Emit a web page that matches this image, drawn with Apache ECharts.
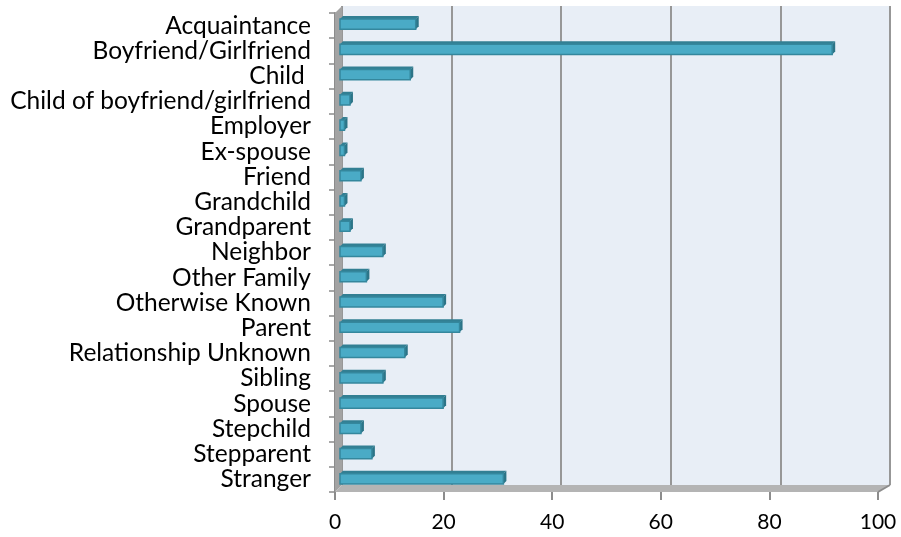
<!DOCTYPE html>
<html>
<head>
<meta charset="utf-8">
<script src="https://cdn.jsdelivr.net/npm/echarts@6/dist/echarts.min.js"></script>
<style>
html, body { margin: 0; padding: 0; background: #fff; }
#chart { width: 901px; height: 537px; }
</style>
</head>
<body>
<div id="chart"></div>
<script>
var categories = ['Acquaintance', 'Boyfriend/Girlfriend', 'Child ', 'Child of boyfriend/girlfriend',
    'Employer', 'Ex-spouse', 'Friend', 'Grandchild', 'Grandparent', 'Neighbor', 'Other Family',
    'Otherwise Known', 'Parent', 'Relationship Unknown', 'Sibling', 'Spouse', 'Stepchild',
    'Stepparent', 'Stranger'];
var counts = [14, 90, 13, 2, 1, 1, 4, 1, 2, 8, 5, 19, 22, 12, 8, 19, 4, 6, 30];
var xTicks = [0, 20, 40, 60, 80, 100];

var myChart = echarts.init(document.getElementById('chart'));

// back plane / front axis geometry (3d look like excel)
var back = {left: 342, right: 11, top: 6, bottom: 52};
var front = {left: 335, right: 23, top: 13, bottom: 45};
var W = 901, H = 537;
var FONT = 'Lato';

function bar3d(params, api) {
    var v = api.value(0);
    var start = api.coord([0, api.value(1)]);
    var end = api.coord([v, api.value(1)]);
    var bh = api.size([0, 1])[1] * 0.52;
    var d = 3;
    var x0 = start[0] - 2, x1 = Math.max(end[0] - d, x0 + 2), y0 = start[1] - bh / 2 + d, y1 = start[1] + bh / 2;
    return {
        type: 'group',
        children: [
            {type: 'polygon', shape: {points: [[x0, y0], [x1, y0], [x1 + d, y0 - d], [x0 + d, y0 - d]]},
                style: {fill: '#327f93'}},
            {type: 'polygon', shape: {points: [[x1, y0], [x1 + d, y0 - d], [x1 + d, y1 - d], [x1, y1]]},
                style: {fill: '#2c7487'}},
            {type: 'rect', shape: {x: x0, y: y0, width: x1 - x0, height: y1 - y0},
                style: {fill: '#4aabc6', stroke: '#34879d', lineWidth: 1.5}}
        ]
    };
}

option = {
    backgroundColor: '#ffffff',
    animation: false,
    graphic: [
        // left wall
        {type: 'polygon', z: 1, shape: {points: [[front.left, front.top], [back.left, back.top],
            [back.left, H - back.bottom], [front.left, H - front.bottom]]},
            style: {fill: '#a3a3a3'}},
        // floor
        {type: 'polygon', z: 1, shape: {points: [[back.left, H - back.bottom], [W - back.right, H - back.bottom],
            [W - front.right, H - front.bottom], [front.left, H - front.bottom]]},
            style: {fill: '#b4b4b4'}},
        {type: 'line', z: 1, shape: {x1: W - back.right, y1: H - back.bottom, x2: W - front.right, y2: H - front.bottom},
            style: {stroke: '#8c8c8c', lineWidth: 2}}
    ],
    grid: [
        {left: back.left, right: back.right, top: back.top, bottom: back.bottom,
            show: true, backgroundColor: '#e8eef6', borderWidth: 0},
        {left: back.left, right: back.right, top: 10, bottom: 47},
        {left: front.left, right: front.right, top: front.top, bottom: front.bottom}
    ],
    xAxis: [
        {gridIndex: 0, type: 'value', min: 0, max: 100, interval: 20,
            axisLine: {show: false}, axisTick: {show: false}, axisLabel: {show: false},
            splitLine: {show: true, lineStyle: {color: '#979797', width: 2}}},
        {gridIndex: 1, type: 'value', min: 0, max: 100, show: false},
        {gridIndex: 2, type: 'value', min: 0, max: 100, interval: 20,
            axisLine: {show: false},
            axisTick: {show: true, length: 8, lineStyle: {color: '#8c8c8c', width: 2}},
            axisLabel: {color: '#000', fontFamily: FONT, fontSize: 21, margin: 20,
                formatter: function (v) { return xTicks.indexOf(v) >= 0 ? String(v) : ''; }},
            splitLine: {show: false}}
    ],
    yAxis: [
        {gridIndex: 0, type: 'category', data: categories, inverse: true, show: false},
        {gridIndex: 1, type: 'category', data: categories, inverse: true, show: false},
        {gridIndex: 2, type: 'category', data: categories, inverse: true,
            axisLine: {show: true, lineStyle: {color: '#8c8c8c', width: 2}},
            axisTick: {show: true, length: 6, lineStyle: {color: '#8c8c8c', width: 1.5}},
            axisLabel: {color: '#000', fontFamily: FONT, fontSize: 24.5, margin: 24, interval: 0},
            splitLine: {show: false}}
    ],
    series: [
        {
            type: 'custom',
            xAxisIndex: 1,
            yAxisIndex: 1,
            z: 5,
            renderItem: bar3d,
            encode: {x: 0, y: 1},
            data: counts.map(function (v, i) { return [v, i]; })
        }
    ]
};
myChart.setOption(option);
</script>
</body>
</html>
